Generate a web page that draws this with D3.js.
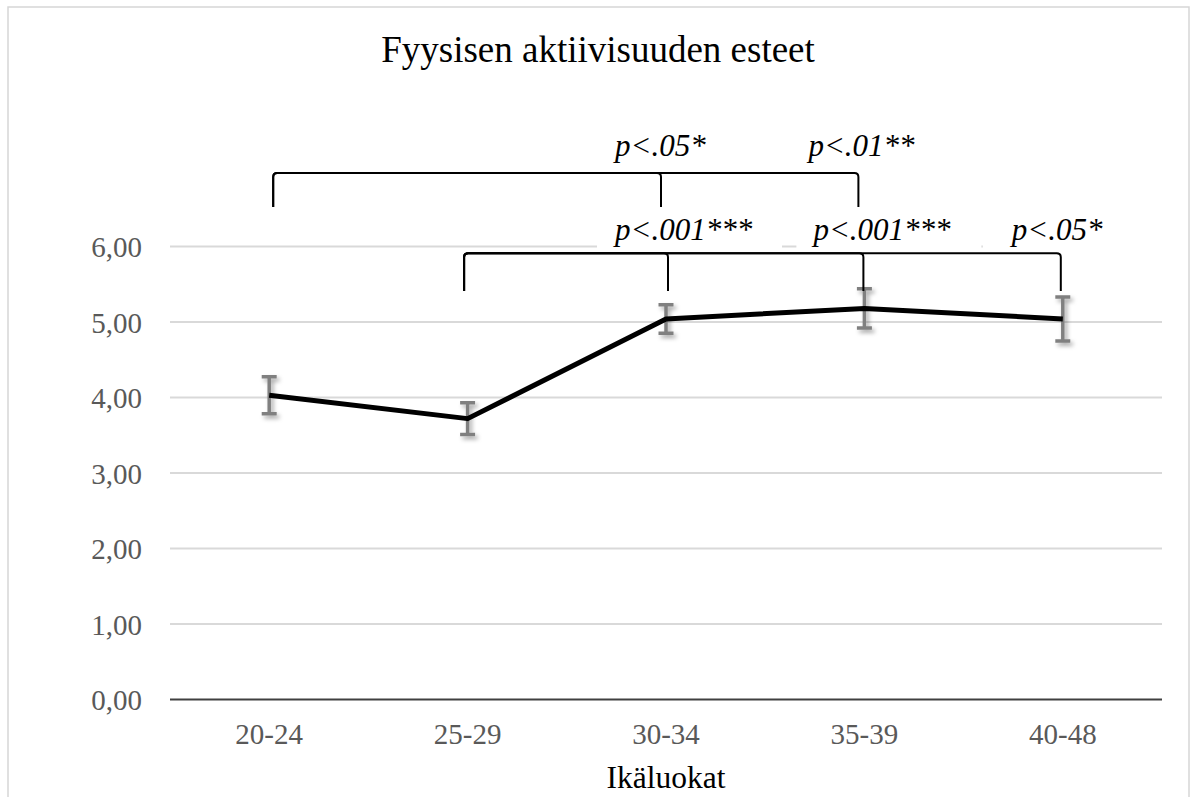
<!DOCTYPE html>
<html>
<head>
<meta charset="utf-8">
<script src="https://cdn.jsdelivr.net/npm/d3@7"></script>
<style>
  html, body { margin: 0; padding: 0; background: #fff; }
  svg { display: block; }
  text { font-family: "Liberation Serif", "Times New Roman", serif; }
</style>
</head>
<body>
<svg id="chart" width="1192" height="797"></svg>
<script>
// Age groups and the mean score of each group, with its error margin
const categories = ["20-24", "25-29", "30-34", "35-39", "40-48"];
const means = [4.03, 3.72, 5.04, 5.18, 5.04];
const errors = [0.245, 0.21, 0.19, 0.26, 0.29];
const yTicks = [0, 1, 2, 3, 4, 5, 6];

// Pairwise comparisons: from group, to group, significance text
const upperPairs = [
  { from: "20-24", to: "30-34", label: "p<.05*" },
  { from: "20-24", to: "35-39", label: "p<.01**" }
];
const lowerPairs = [
  { from: "25-29", to: "30-34", label: "p<.001***" },
  { from: "25-29", to: "35-39", label: "p<.001***" },
  { from: "25-29", to: "40-48", label: "p<.05*" }
];

const title = "Fyysisen aktiivisuuden esteet";
const xTitle = "Ikäluokat";

const plot = { left: 170, right: 1162, top: 246.5, bottom: 699.5 };

const svg = d3.select("#chart");

// Outer frame
svg.append("rect")
  .attr("x", 8).attr("y", 7).attr("width", 1181).attr("height", 800)
  .attr("fill", "#fff").attr("stroke", "#d6d6d6").attr("stroke-width", 1.5);

// Drop shadow used by error bars
const defs = svg.append("defs");
const f = defs.append("filter").attr("id", "shadow")
  .attr("x", "-100%").attr("y", "-50%").attr("width", "300%").attr("height", "200%");
f.append("feDropShadow").attr("dx", 2.5).attr("dy", 3).attr("stdDeviation", 2.2)
  .attr("flood-color", "#000").attr("flood-opacity", 0.35);

const x = d3.scaleBand().domain(categories).range([plot.left, plot.right]).padding(0);
const cx = c => x(c) + x.bandwidth() / 2;
const y = d3.scaleLinear().domain([0, 6]).range([plot.bottom, plot.top]);
const fmt = v => d3.format(".2f")(v).replace(".", ",");

// Title
svg.append("text")
  .attr("x", 598).attr("y", 62)
  .attr("text-anchor", "middle")
  .attr("font-size", 37).attr("fill", "#000")
  .text(title);

// Horizontal gridlines
svg.append("g").selectAll("line")
  .data(yTicks.filter(d => d > 0))
  .join("line")
  .attr("x1", plot.left).attr("x2", plot.right)
  .attr("y1", d => y(d)).attr("y2", d => y(d))
  .attr("stroke", "#d9d9d9").attr("stroke-width", 2);

// Y axis labels
const yAxis = svg.append("g")
  .attr("transform", `translate(${plot.left - 28},0)`)
  .call(d3.axisLeft(y).tickValues(yTicks).tickFormat(fmt).tickSize(0).tickPadding(0));
yAxis.select(".domain").remove();
yAxis.selectAll("text")
  .attr("font-size", 29).attr("fill", "#595959")
  .attr("dy", "0.36em");

// X axis
const xAxis = svg.append("g")
  .attr("transform", `translate(0,${plot.bottom})`)
  .call(d3.axisBottom(x).tickSize(0).tickPadding(0));
xAxis.select(".domain").attr("stroke", "#404040").attr("stroke-width", 2.2)
  .attr("d", `M${plot.left},0H${plot.right}`);
xAxis.selectAll("text")
  .attr("font-size", 29).attr("fill", "#595959")
  .attr("dy", 0).attr("y", 44.5);

// X axis title
svg.append("text")
  .attr("x", (plot.left + plot.right) / 2).attr("y", 788)
  .attr("text-anchor", "middle")
  .attr("font-size", 31.5).attr("fill", "#000")
  .text(xTitle);

// Error bars
const rows = categories.map((c, i) => ({ c, m: means[i], e: errors[i] }));
const eb = svg.append("g").attr("filter", "url(#shadow)")
  .attr("stroke", "#808080").attr("stroke-width", 3.5).attr("fill", "none");
eb.selectAll("path")
  .data(rows)
  .join("path")
  .attr("d", d => {
    const px = cx(d.c), t = y(d.m + d.e), b = y(d.m - d.e), w = 7.5;
    return `M${px - w},${t}H${px + w}M${px},${t}V${b}M${px - w},${b}H${px + w}`;
  });

// Mean line
svg.append("path")
  .datum(rows)
  .attr("fill", "none").attr("stroke", "#000").attr("stroke-width", 5)
  .attr("stroke-linejoin", "round")
  .attr("d", d3.line().x(d => cx(d.c)).y(d => y(d.m)));

// Comparison brackets (hand-drawn connectors sit a few pixels off the group centres)
const upper = { bar: 173, foot: 207, text: 156, nudgeFrom: 4, nudgeTo: [-5, -6] };
const lower = { bar: 253.3, foot: 291, text: 240, nudgeFrom: -3.5, nudgeTo: [2, -1, -2] };

function bracketPath(a, b, bar, foot, r) {
  return `M${a},${foot}V${bar + r}Q${a},${bar} ${a + r},${bar}H${b - r}` +
         `Q${b},${bar} ${b},${bar + r}V${foot}`;
}

const brackets = svg.append("g").attr("fill", "none").attr("stroke", "#000").attr("stroke-width", 2);
upperPairs.forEach((p, i) => {
  brackets.append("path").attr("d",
    bracketPath(cx(p.from) + upper.nudgeFrom, cx(p.to) + upper.nudgeTo[i], upper.bar, upper.foot, 4));
});
lowerPairs.forEach((p, i) => {
  brackets.append("path").attr("d",
    bracketPath(cx(p.from) + lower.nudgeFrom, cx(p.to) + lower.nudgeTo[i], lower.bar, lower.foot, 4));
});

// Significance labels; the lower ones sit on white boxes over the gridline
const boxes = svg.append("g");
const boxStart = [-69, -68, -80];
lowerPairs.forEach((p, i) => {
  const x0 = cx(p.to) + boxStart[i];
  const x1 = Math.min(x0 + 185, plot.right + 2);
  boxes.append("rect")
    .attr("x", x0).attr("y", 214).attr("width", x1 - x0).attr("height", 36)
    .attr("fill", "#fff");
});

const labels = svg.append("g")
  .attr("font-size", 31).attr("font-style", "italic").attr("fill", "#000");
upperPairs.forEach((p, i) => {
  labels.append("text")
    .attr("x", cx(p.to) - (i === 0 ? 51 : 56)).attr("y", upper.text)
    .text(p.label);
});
lowerPairs.forEach(p => {
  labels.append("text")
    .attr("x", cx(p.to) - 51).attr("y", lower.text)
    .text(p.label);
});
</script>
</body>
</html>
